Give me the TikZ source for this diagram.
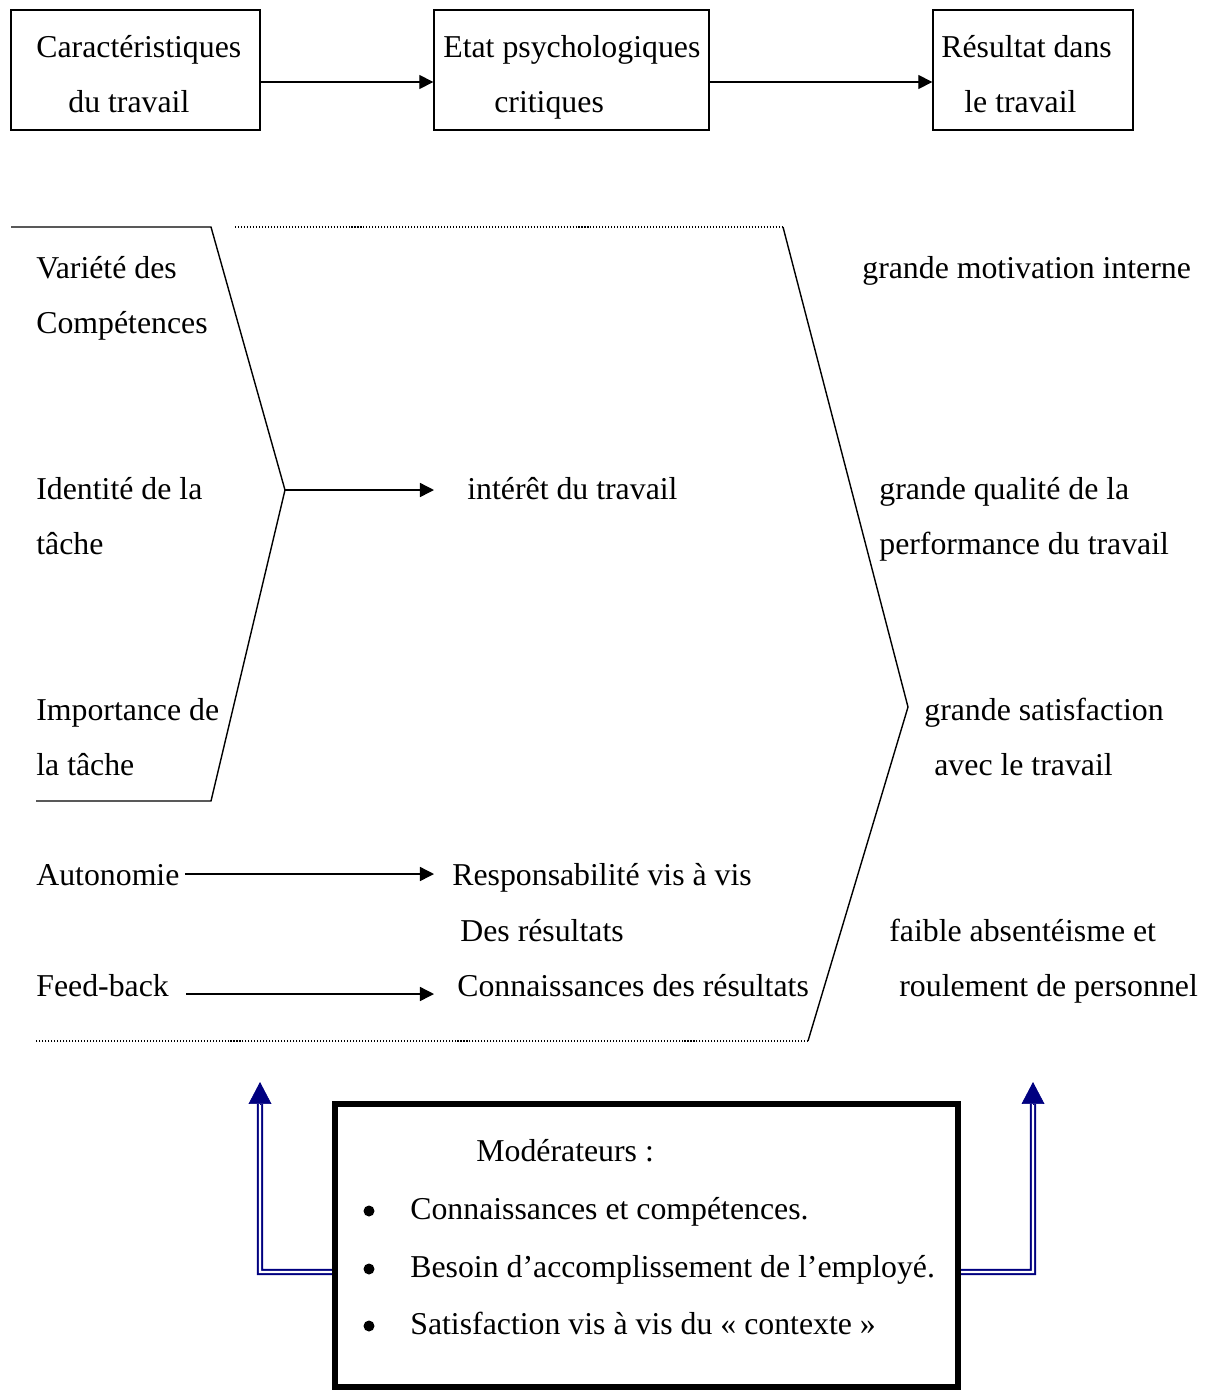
\documentclass[tikz,border=0pt]{standalone}
\usepackage{fontspec}
\setmainfont{Liberation Serif}
\usepackage{tikz}
\usetikzlibrary{arrows.meta,positioning}
\definecolor{navyblue}{RGB}{0,0,128}

\begin{document}
\begin{tikzpicture}[
  x=0.02cm, y=-0.02cm,
  %% style definitions
  txt/.style    = {anchor=west, inner sep=0pt, font=\fontsize{18.1}{22}\selectfont,
                   text height=1.2em, text depth=0.14em},
  bul/.style    = {circle, fill, inner sep=0pt, minimum size=0.22cm},
  box/.style    = {draw, line width=0.8pt, inner sep=0pt},
  modbox/.style = {draw, line width=3.5pt, inner sep=0pt,
                   minimum width=12.46cm, minimum height=5.66cm},
  arr/.style    = {-{Triangle[length=8pt,width=8pt]}, line width=0.8pt},
  brk/.style    = {line width=0.8pt},
  dots/.style   = {line width=0.6pt, dash pattern=on 0.6pt off 1.1pt},
  dbl/.style    = {draw=navyblue, double, double distance=1.2pt, line width=1.2pt},
  tipup/.style  = {draw=navyblue, fill=navyblue, line width=0.4pt,
                   -{Triangle[length=12.5pt,width=13pt]}},
]
\useasboundingbox (0,0) rectangle (1210,1390);

%% -- top row --------------------------------------------------------------
\node[box, minimum width=4.98cm, minimum height=2.4cm] (car)  at (135.5,70) {};
\node[box, minimum width=5.5cm,  minimum height=2.4cm] (etat) at (571.5,70) {};
\node[box, minimum width=4cm,    minimum height=2.4cm] (res)  at (1033,70)  {};

\node[txt] (carA)  at (36,48)   {Caractéristiques};
\node[txt] (carB)  at (68,103)  {du travail};
\node[txt] (etatA) at (443,48)  {Etat psychologiques};
\node[txt] (etatB) at (494,103) {critiques};
\node[txt] (resA)  at (941,48)  {Résultat dans};
\node[txt] (resB)  at (964,103) {le travail};

\draw[arr] ([yshift=-0.24cm]car.east)  -- ([yshift=-0.24cm]etat.west);
\draw[arr] ([yshift=-0.24cm]etat.east) -- ([yshift=-0.24cm]res.west);

%% -- left column -----------------------------------------------------------
\node[txt] (varA) at (36,269) {Variété des};
\node[txt] (varB) at (36,324) {Compétences};
\node[txt] (idA)  at (36,490) {Identité de la};
\node[txt] (idB)  at (36,545) {tâche};
\node[txt] (impA) at (36,711) {Importance de};
\node[txt] (impB) at (36,766) {la tâche};
\node[txt] (auto) at (36,876) {Autonomie};
\node[txt] (feed) at (36,987) {Feed-back};

%% -- middle column ---------------------------------------------------------
\node[txt] (inter) at (467,490) {intérêt du travail};
\node[txt] (resp)  at (452,876) {Responsabilité vis à vis};
\node[txt] (respB) at (460,932) {Des résultats};
\node[txt] (conn)  at (457,987) {Connaissances des résultats};

%% -- right column ----------------------------------------------------------
\node[txt] (motiv) at (862,269) {grande motivation interne};
\node[txt] (qualA) at (879,490) {grande qualité de la};
\node[txt] (qualB) at (879,545) {performance du travail};
\node[txt] (satA)  at (924,711) {grande satisfaction};
\node[txt] (satB)  at (934,766) {avec le travail};
\node[txt] (absA)  at (889,932) {faible absentéisme et};
\node[txt] (absB)  at (899,987) {roulement de personnel};

%% -- brackets and dotted frame -------------------------------------------------
\coordinate (lj) at (285,490);
\coordinate (rj) at (908,707);
\draw[brk]  (11,227) -- (211,227) -- (lj) -- (211,801) -- (36,801);
\draw[dots] (235,227) -- (783,227);
\draw[brk]  (783,227) -- (rj) -- (808,1041);
\draw[dots] (808,1041) -- (36,1041);

%% -- arrows into the middle column ---------------------------------------------
\draw[arr] (lj) -- (434,490);
\draw[arr] ([xshift=0.1cm]auto.east |- 0,874) -- (434,874);
\draw[arr] ([xshift=0.34cm]feed.east |- 0,994) -- (434,994);

%% -- moderators ------------------------------------------------------------
\node[modbox] (mod) at (646.5,1245.5) {};
\node[txt] (modT) at (476,1152) {Modérateurs :};
\node[bul] (b1) at (369,1211) {};
\node[bul] (b2) at (369,1269) {};
\node[bul] (b3) at (369,1326) {};
\node[txt] (m1) at (410,1210) {Connaissances et compétences.};
\node[txt] (m2) at (410,1268) {Besoin d’accomplissement de l’employé.};
\node[txt] (m3) at (410,1325) {Satisfaction vis à vis du « contexte »};

%% -- double arrows -----------------------------------------------------------
\coordinate (lup) at (260,1104);
\coordinate (rup) at (1033,1104);
\draw[dbl] ([yshift=-0.53cm]mod.west) -- (260,1272) -- (lup);
\draw[dbl] ([yshift=-0.53cm]mod.east) -- (1033,1272) -- (rup);
\draw[tipup] (lup) -- ++(0,-22);
\draw[tipup] (rup) -- ++(0,-22);

\end{tikzpicture}
\end{document}
